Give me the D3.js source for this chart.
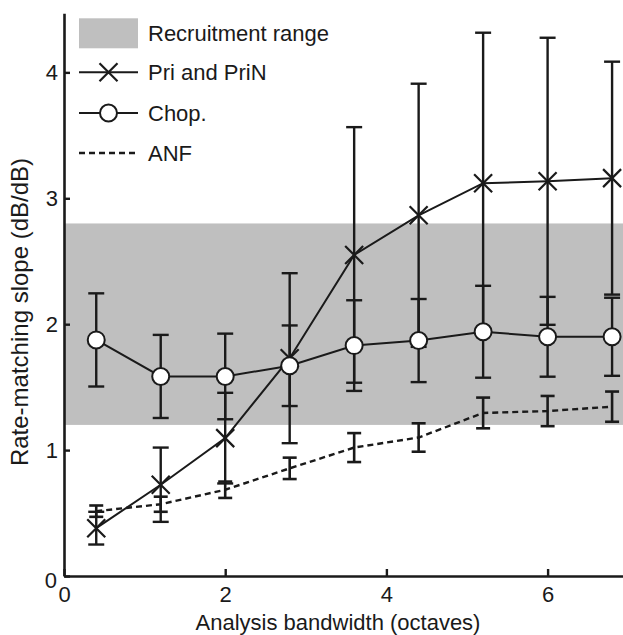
<!DOCTYPE html>
<html>
<head>
<meta charset="utf-8">
<script src="https://cdn.jsdelivr.net/npm/d3@7"></script>
<style>
  html, body { margin: 0; padding: 0; background: #fff; }
  svg { display: block; }
  text { font-family: "Liberation Sans", Arial, Helvetica, sans-serif; fill: #1a1a1a; }
</style>
</head>
<body>
<svg id="chart" width="623" height="635"></svg>
<script>
// Analysis bandwidth (octaves) at which slopes were computed
const bandwidth = [0.4, 1.2, 2.0, 2.8, 3.6, 4.4, 5.2, 6.0, 6.8];

// Primary-like and primary-notch units: mean slope and error half-width
const priMean = [0.38, 0.725, 1.095, 1.73, 2.55, 2.865, 3.12, 3.135, 3.16];
const priErr  = [0.13, 0.295, 0.36, 0.675, 1.015, 1.045, 1.195, 1.14, 0.925];

// Chopper units
const chopMean = [1.875, 1.585, 1.585, 1.67, 1.83, 1.87, 1.94, 1.90, 1.90];
const chopErr  = [0.37, 0.33, 0.34, 0.32, 0.36, 0.33, 0.365, 0.317, 0.31];

// Auditory-nerve fibres
const anfMean = [0.515, 0.57, 0.685, 0.855, 1.02, 1.10, 1.295, 1.31, 1.345];
const anfErr  = [0.045, 0.06, 0.065, 0.085, 0.115, 0.113, 0.122, 0.12, 0.12];

// Range of slopes corresponding to loudness recruitment
const recruitmentRange = [1.2, 2.8];

const xTicks = [0, 2, 4, 6];
const yTicks = [0, 1, 2, 3, 4];
const legendLabels = ["Recruitment range", "Pri and PriN", "Chop.", "ANF"];

const svg = d3.select("#chart");
const ink = "#1a1a1a";
const fontSize = 22;

const x = d3.scaleLinear().domain([0, 7]).range([64, 628.2]);
const y = d3.scaleLinear().domain([0, 4.47]).range([576, 13.2]);

// Recruitment band spans the full width of the axes
svg.append("rect")
  .attr("x", x(0))
  .attr("width", x(7) - x(0))
  .attr("y", y(recruitmentRange[1]))
  .attr("height", y(recruitmentRange[0]) - y(recruitmentRange[1]))
  .attr("fill", "#bfbfbf");

function rows(mean, err) {
  return bandwidth.map((b, i) => ({ b, m: mean[i], e: err[i] }));
}

function errorBars(data, capHalf, width) {
  const g = svg.append("g").attr("stroke", ink).attr("stroke-width", width).attr("fill", "none");
  data.forEach(d => {
    const cx = x(d.b);
    const top = y(d.m + d.e), bot = y(d.m - d.e);
    g.append("line").attr("x1", cx).attr("x2", cx).attr("y1", top).attr("y2", bot);
    g.append("line").attr("x1", cx - capHalf).attr("x2", cx + capHalf).attr("y1", top).attr("y2", top);
    g.append("line").attr("x1", cx - capHalf).attr("x2", cx + capHalf).attr("y1", bot).attr("y2", bot);
  });
}

const line = d3.line().x(d => x(d.b)).y(d => y(d.m));

// ANF: dashed line with error bars
const anf = rows(anfMean, anfErr);
errorBars(anf, 7, 2.6);
svg.append("path").datum(anf).attr("d", line)
  .attr("fill", "none").attr("stroke", ink).attr("stroke-width", 2.4)
  .attr("stroke-dasharray", "6,4");

// Pri and PriN: solid line with crosses
const pri = rows(priMean, priErr);
errorBars(pri, 8, 2.4);
svg.append("path").datum(pri).attr("d", line)
  .attr("fill", "none").attr("stroke", ink).attr("stroke-width", 2);

function cross(g, cx, cy, r) {
  g.append("path")
    .attr("d", `M${cx - r},${cy - r}L${cx + r},${cy + r}M${cx - r},${cy + r}L${cx + r},${cy - r}`)
    .attr("stroke", ink).attr("stroke-width", 2.2).attr("fill", "none");
}
const crossG = svg.append("g");
pri.forEach(d => cross(crossG, x(d.b), y(d.m), 9));

// Choppers: solid line with open circles
const chop = rows(chopMean, chopErr);
errorBars(chop, 8, 2.4);
svg.append("path").datum(chop).attr("d", line)
  .attr("fill", "none").attr("stroke", ink).attr("stroke-width", 2);
svg.append("g").selectAll("circle").data(chop).join("circle")
  .attr("cx", d => x(d.b)).attr("cy", d => y(d.m)).attr("r", 8.5)
  .attr("fill", "#fff").attr("stroke", ink).attr("stroke-width", 2);

// Axes
const yAxis = svg.append("g").attr("transform", `translate(${x(0)},0)`)
  .call(d3.axisLeft(y).tickValues(yTicks).tickFormat(d3.format("d"))
    .tickSizeInner(-6).tickSizeOuter(0).tickPadding(6));
const xAxis = svg.append("g").attr("transform", `translate(0,${y(0)})`)
  .call(d3.axisBottom(x).tickValues(xTicks).tickFormat(d3.format("d"))
    .tickSizeInner(-7).tickSizeOuter(0).tickPadding(10));
[xAxis, yAxis].forEach(a => {
  a.select(".domain").attr("stroke", ink).attr("stroke-width", 2.6);
  a.selectAll(".tick line").attr("stroke", ink).attr("stroke-width", 2.4);
  a.selectAll(".tick text").attr("font-size", fontSize).attr("fill", ink)
    .style("font-family", "'Liberation Sans', Arial, sans-serif");
});
// keep the two zero labels apart at the origin
yAxis.selectAll(".tick text").filter(d => d === 0).attr("dx", -1).attr("dy", "0.5em");

// Axis titles
svg.append("text")
  .attr("x", 338).attr("y", 630)
  .attr("text-anchor", "middle").attr("font-size", fontSize)
  .text("Analysis bandwidth (octaves)");
svg.append("text")
  .attr("transform", "translate(28,312) rotate(-90)")
  .attr("text-anchor", "middle").attr("font-size", 24)
  .text("Rate-matching slope (dB/dB)");

// Legend
const lg = svg.append("g");
const keyX0 = 79, keyX1 = 138, keyMid = 108.5, textX = 148;
const rowY = [33.3, 72.3, 113, 153];
lg.append("rect").attr("x", keyX0).attr("y", 18.3).attr("width", keyX1 - keyX0).attr("height", 30)
  .attr("fill", "#bfbfbf");
lg.append("line").attr("x1", keyX0).attr("x2", keyX1).attr("y1", rowY[1]).attr("y2", rowY[1])
  .attr("stroke", ink).attr("stroke-width", 2);
cross(lg, keyMid, rowY[1], 9);
lg.append("line").attr("x1", keyX0).attr("x2", keyX1).attr("y1", rowY[2]).attr("y2", rowY[2])
  .attr("stroke", ink).attr("stroke-width", 2);
lg.append("circle").attr("cx", keyMid).attr("cy", rowY[2]).attr("r", 8.5)
  .attr("fill", "#fff").attr("stroke", ink).attr("stroke-width", 2);
lg.append("line").attr("x1", keyX0).attr("x2", keyX1).attr("y1", rowY[3]).attr("y2", rowY[3])
  .attr("stroke", ink).attr("stroke-width", 2.4).attr("stroke-dasharray", "6,4");
lg.selectAll("text.lbl").data(legendLabels).join("text").attr("class", "lbl")
  .attr("x", textX).attr("y", (d, i) => rowY[i]).attr("dy", "0.36em")
  .attr("font-size", fontSize).text(d => d);
</script>
</body>
</html>
